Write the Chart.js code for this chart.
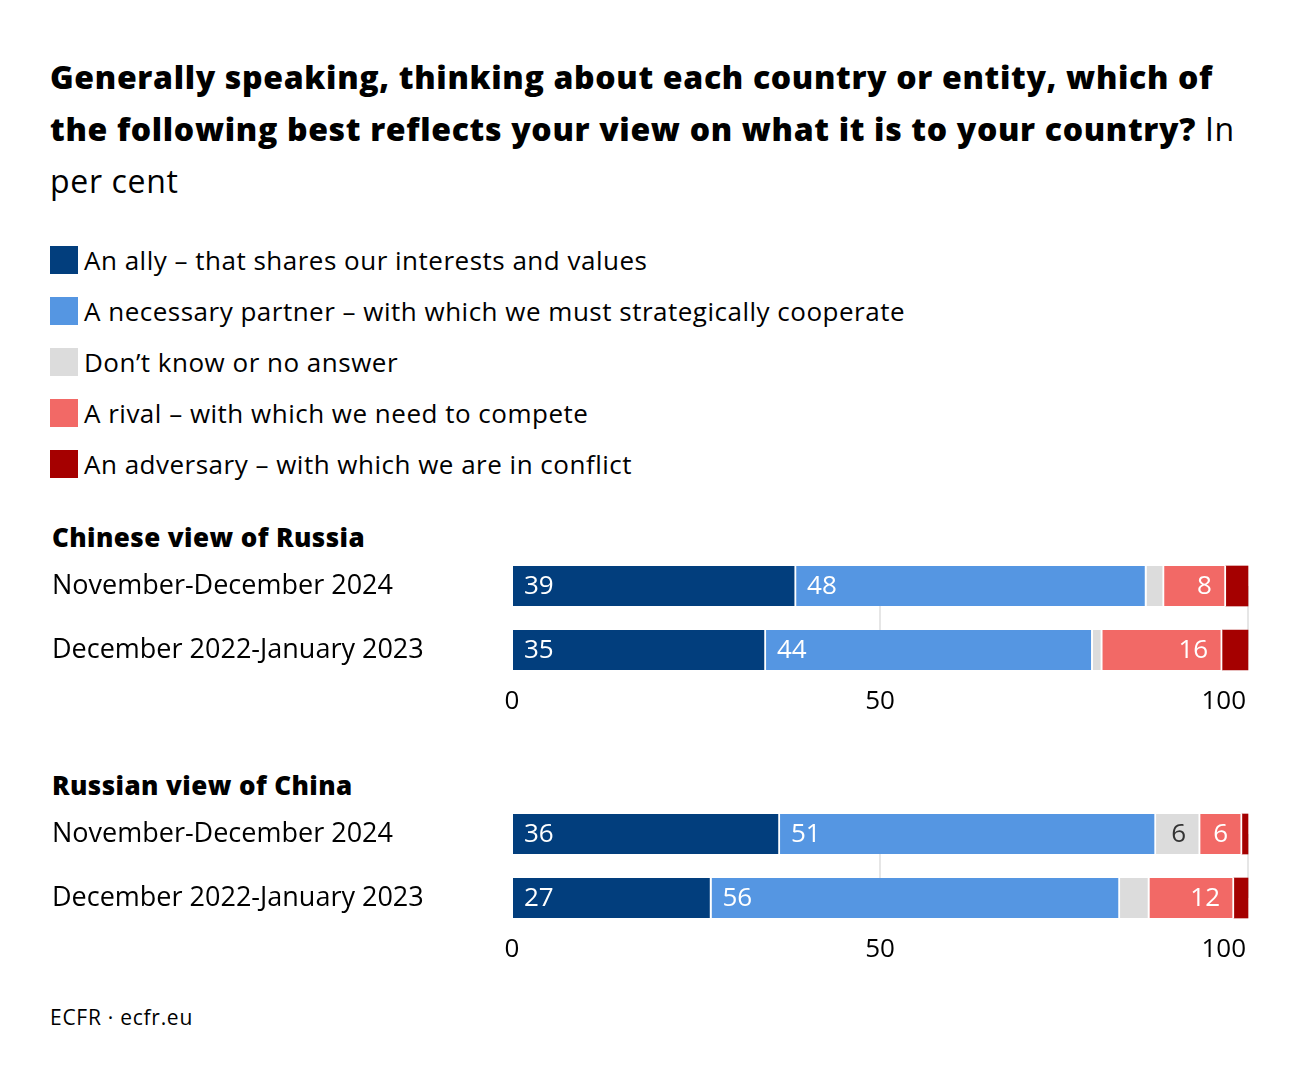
<!DOCTYPE html>
<html><head><meta charset="utf-8">
<script src="https://cdn.jsdelivr.net/npm/chart.js@4/dist/chart.umd.min.js"></script>
<style>
html,body{margin:0;padding:0;background:#fff;}
body{width:1300px;height:1084px;position:relative;overflow:hidden;font-family:"Open Sans",Lato,sans-serif;color:#000;}
.title{position:absolute;left:50px;top:51px;font-size:32px;line-height:52px;white-space:nowrap;}
.title b{font-weight:800;}
.legend{position:absolute;left:50px;top:234px;}
.li{display:flex;align-items:center;height:51px;font-size:26px;white-space:nowrap;}
.sw{width:28px;height:28px;margin-right:6px;flex:none;}
.head{position:absolute;left:52px;font-size:26px;font-weight:800;line-height:30px;white-space:nowrap;}
.foot{position:absolute;left:50px;top:1004px;font-size:21px;line-height:26px;white-space:nowrap;}
canvas{position:absolute;left:0;}
</style>
</head><body>
<div class="title" id="title"><span id="t1"><b>Generally speaking, thinking about each country or entity, which of</b></span><br><b>the following best reflects your view on what it is to your country?</b> In<br>per cent</div>
<div class="legend" id="legend"></div>
<div class="head" id="h1" style="top:522px">Chinese view of Russia</div>
<div class="head" id="h2" style="top:770px">Russian view of China</div>
<canvas id="c1" width="1300" height="170" style="top:556px"></canvas>
<canvas id="c2" width="1300" height="170" style="top:804px"></canvas>
<div class="foot" id="foot">ECFR · ecfr.eu</div>
<script>
// ---- data ----
const seriesNames = [
  "An ally – that shares our interests and values",
  "A necessary partner – with which we must strategically cooperate",
  "Don’t know or no answer",
  "A rival – with which we need to compete",
  "An adversary – with which we are in conflict"
];
const seriesColors = ["#023e7d", "#5596e2", "#dcdcdc", "#f26966", "#a50000"];
const periods = ["November-December 2024", "December 2022-January 2023"];

// Chinese view of Russia
const cnAlly = [38.6, 34.5];
const cnPartner = [47.6, 44.4];
const cnDontKnow = [2.4, 1.3];
const cnRival = [8.4, 16.3];
const cnAdversary = [3.0, 3.5];

// Russian view of China
const ruAlly = [36.4, 27.1];
const ruPartner = [51.1, 55.5];
const ruDontKnow = [6.0, 4.0];
const ruRival = [5.7, 11.5];
const ruAdversary = [0.8, 1.9];

const xTicks = [0, 50, 100];

// ---- legend ----
const lg = document.getElementById('legend');
seriesNames.forEach((n, i) => {
  const d = document.createElement('div'); d.className = 'li';
  d.innerHTML = '<span class="sw" style="background:' + seriesColors[i] + '"></span><span class="lt">' + n + '</span>';
  lg.appendChild(d);
});

// fit letter-spacing of text blocks to the reference widths
function fit(measureEl, applyEl, target) {
  applyEl.style.letterSpacing = '0px';
  const w = measureEl.getBoundingClientRect().width;
  const n = measureEl.textContent.length;
  applyEl.style.letterSpacing = ((target - w) / n) + 'px';
}
fit(document.getElementById('t1'), document.getElementById('title'), 1163);
fit(lg.children[1].querySelector('.lt'), lg, 821);
const h1 = document.getElementById('h1');
fit(h1, h1, 313);
const h2 = document.getElementById('h2');
h2.style.letterSpacing = h1.style.letterSpacing;
const ft = document.getElementById('foot');
fit(ft, ft, 143);

const FONT = '"Open Sans", Lato, sans-serif';

const valueLabels = {
  id: 'valueLabels',
  afterDatasetsDraw(chart) {
    const ctx = chart.ctx;
    ctx.save();
    ctx.font = '26px ' + FONT;
    ctx.textBaseline = 'middle';
    chart.data.datasets.forEach((ds, di) => {
      const meta = chart.getDatasetMeta(di);
      meta.data.forEach((bar, i) => {
        const v = ds.data[i];
        if (v < 5) return;
        const txt = String(Math.round(v));
        ctx.fillStyle = di === 2 ? '#333333' : '#ffffff';
        if (di <= 1) { ctx.textAlign = 'left'; ctx.fillText(txt, bar.base + 11, bar.y + 1); }
        else { ctx.textAlign = 'right'; ctx.fillText(txt, bar.x - 14, bar.y + 1); }
      });
    });
    ctx.restore();
  }
};

const xLabels = {
  id: 'xLabels',
  afterDraw(chart) {
    const ctx = chart.ctx, sx = chart.scales.x;
    ctx.save();
    ctx.font = '26px ' + FONT;
    ctx.fillStyle = '#000';
    ctx.textBaseline = 'middle';
    xTicks.forEach((t, i) => {
      const px = sx.getPixelForValue(t);
      const y = chart.chartArea.bottom + 52;
      if (i === xTicks.length - 1) { ctx.textAlign = 'right'; ctx.fillText(String(t), px - 2, y); }
      else { ctx.textAlign = 'center'; ctx.fillText(String(t), px, y); }
    });
    ctx.restore();
  }
};

function makeChart(id, arrs) {
  const datasets = arrs.map((a, i) => ({
    label: seriesNames[i],
    data: a,
    backgroundColor: seriesColors[i],
    borderColor: '#ffffff',
    borderWidth: i < arrs.length - 1 ? { right: 2, left: 0, top: 0, bottom: 0 } : 0,
    borderSkipped: 'start',
    barThickness: 40,
    clip: false
  }));
  return new Chart(document.getElementById(id), {
    type: 'bar',
    data: { labels: periods, datasets },
    options: {
      indexAxis: 'y',
      responsive: false,
      animation: false,
      layout: { padding: { left: 52, right: 52, top: 30, bottom: 76 } },
      plugins: { legend: { display: false }, tooltip: { enabled: false } },
      scales: {
        x: {
          stacked: true, min: 0, max: 100,
          ticks: { display: false, stepSize: 50 },
          border: { display: false },
          grid: { drawTicks: false, lineWidth: 2, color: c => c.tick && c.tick.value === 0 ? 'rgba(0,0,0,0)' : '#e6e6e6' },
          afterFit: s => { s.height = 0; }
        },
        y: {
          stacked: true, offset: false,
          grid: { display: false },
          border: { display: false },
          ticks: { crossAlign: 'far', padding: 0, color: '#000', font: { family: FONT, size: 27 } },
          afterFit: s => { s.width = 460; }
        }
      }
    },
    plugins: [valueLabels, xLabels]
  });
}

makeChart('c1', [cnAlly, cnPartner, cnDontKnow, cnRival, cnAdversary]);
makeChart('c2', [ruAlly, ruPartner, ruDontKnow, ruRival, ruAdversary]);
</script>
</body></html>
